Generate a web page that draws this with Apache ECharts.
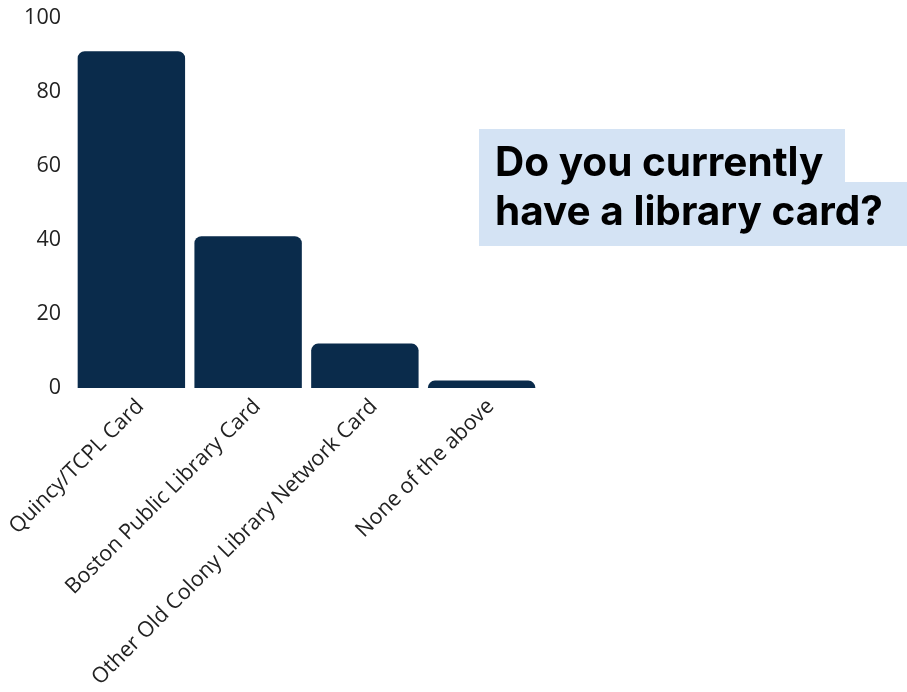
<!DOCTYPE html>
<html><head><meta charset="utf-8">
<script src="https://cdn.jsdelivr.net/npm/echarts@6/dist/echarts.min.js"></script>
<style>html,body{margin:0;padding:0;background:#fff}#c{width:907px;height:692px}</style>
</head><body><div id="c"></div>
<script>
const categories = ["Quincy/TCPL Card", "Boston Public Library Card", "Other Old Colony Library Network Card", "None of the above"];
const values = [91, 41, 12, 2];
const yTicks = [0, 20, 40, 60, 80, 100];
const titleLines = ["Do you currently", "have a library card?"];

const chart = echarts.init(document.getElementById('c'));
chart.setOption({
  animation: false,
  grid: [
    { left: 73, right: 367, top: 18, bottom: 304 },
    { left: 82, right: 358, top: 18, bottom: 304 }
  ],
  xAxis: [{
    type: 'category', data: categories, gridIndex: 0,
    axisLine: { show: false }, axisTick: { show: false }, axisLabel: { show: false }
  }, {
    type: 'category', data: categories, gridIndex: 1,
    axisLine: { show: false }, axisTick: { show: false },
    axisLabel: { rotate: 45, fontSize: 21.5, color: '#222', fontFamily: 'Open Sans', margin: 15, interval: 0 }
  }],
  yAxis: [{
    type: 'value', min: yTicks[0], max: yTicks[yTicks.length - 1], interval: 20, gridIndex: 0,
    axisLine: { show: false }, axisTick: { show: false }, splitLine: { show: false },
    axisLabel: { fontSize: 21.5, color: '#222', fontFamily: 'Open Sans', margin: 12 }
  }, {
    type: 'value', min: yTicks[0], max: yTicks[yTicks.length - 1], gridIndex: 1, show: false
  }],
  series: [{
    type: 'bar', data: values, barCategoryGap: '8%', xAxisIndex: 0, yAxisIndex: 0,
    itemStyle: { color: '#0a2b4b', borderRadius: [7, 7, 0, 0] }
  }],
  graphic: [
    { type: 'rect', shape: { x: 479, y: 129, width: 366, height: 54 }, style: { fill: '#d4e3f4' } },
    { type: 'rect', shape: { x: 479, y: 182, width: 428, height: 64 }, style: { fill: '#d4e3f4' } },
    { type: 'text', x: 495, y: 164, style: { text: titleLines[0], fontSize: 40.5, fontWeight: 'bold', fontFamily: 'Inter', fill: '#000', verticalAlign: 'middle' } },
    { type: 'text', x: 495, y: 213, style: { text: titleLines[1], fontSize: 40.5, fontWeight: 'bold', fontFamily: 'Inter', fill: '#000', verticalAlign: 'middle' } }
  ]
});
</script></body></html>
